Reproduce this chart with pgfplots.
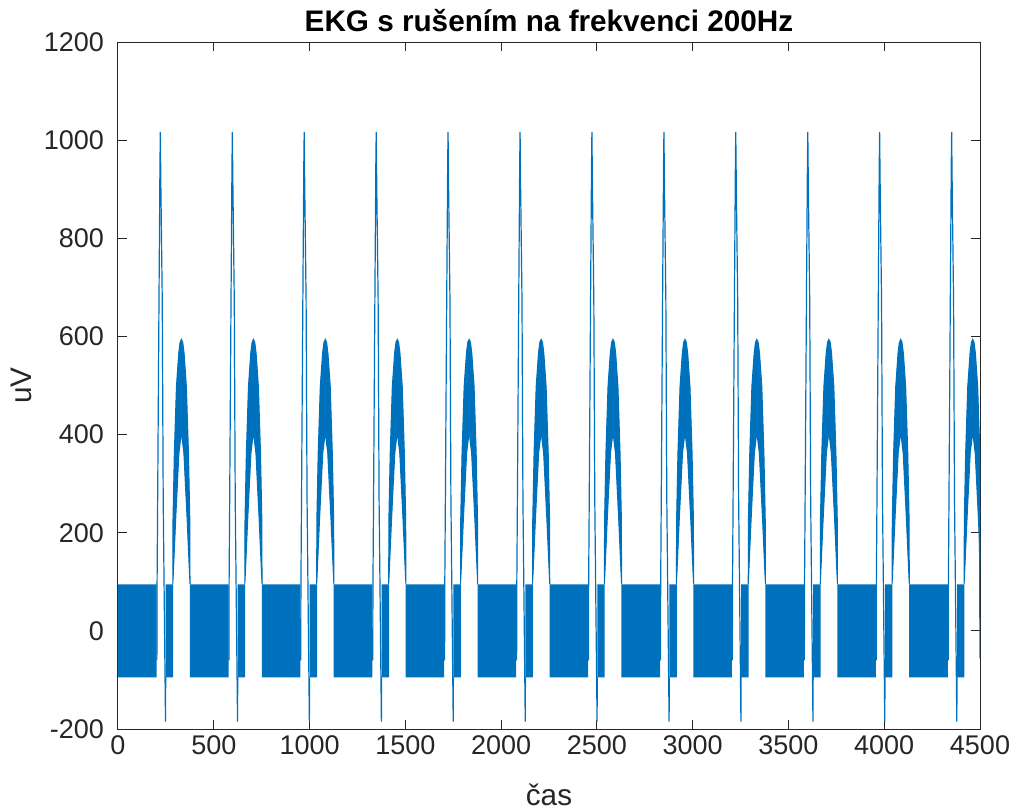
\documentclass[border=0pt]{standalone}
\usepackage{pgfplots}
\pgfplotsset{compat=1.18}
\usepackage{pgfplotstable}
\usepackage{fontspec}
\setmainfont{Liberation Sans}
\definecolor{mblue}{HTML}{0072BD}
\definecolor{axgray}{gray}{0.15}

% QRS complex, relative to the R peak
\pgfplotstableread{
t v
-17 -60
-16 95
-13 266
-6 674
-1 950
1 1017
4 900
11 674
16 266
28 -185
29 -95
}\qrs

% T wave with the 200 Hz interference: upper envelope, then lower envelope back
\pgfplotstableread{
t v
66 95
67 226
74 362
85 498
97 566
104 588
111 594
118 588
125 566
137 498
148 362
155 226
156 95
154 110
141 226
124 362
111 405
98 362
81 226
68 110
66 95
}\twave

% baseline stretches, where the interference fills -95 ... 95
\pgfplotstableread{
t v
0 -95
0 95
201 95
201 -95
201 nan
249 -95
249 95
288 95
288 -95
288 nan
375 -95
375 95
577 95
577 -95
577 nan
625 -95
625 95
664 95
664 -95
664 nan
751 -95
751 95
952 95
952 -95
952 nan
1000 -95
1000 95
1039 95
1039 -95
1039 nan
1126 -95
1126 95
1328 95
1328 -95
1328 nan
1376 -95
1376 95
1415 95
1415 -95
1415 nan
1502 -95
1502 95
1703 95
1703 -95
1703 nan
1751 -95
1751 95
1790 95
1790 -95
1790 nan
1877 -95
1877 95
2079 95
2079 -95
2079 nan
2127 -95
2127 95
2166 95
2166 -95
2166 nan
2253 -95
2253 95
2454 95
2454 -95
2454 nan
2502 -95
2502 95
2541 95
2541 -95
2541 nan
2628 -95
2628 95
2830 95
2830 -95
2830 nan
2878 -95
2878 95
2917 95
2917 -95
2917 nan
3004 -95
3004 95
3205 95
3205 -95
3205 nan
3253 -95
3253 95
3292 95
3292 -95
3292 nan
3379 -95
3379 95
3581 95
3581 -95
3581 nan
3629 -95
3629 95
3668 95
3668 -95
3668 nan
3755 -95
3755 95
3956 95
3956 -95
3956 nan
4004 -95
4004 95
4043 95
4043 -95
4043 nan
4130 -95
4130 95
4332 95
4332 -95
4332 nan
4380 -95
4380 95
4419 95
4419 -95
}\band

\begin{document}
\begin{tikzpicture}
\useasboundingbox (-59pt,-41pt) rectangle (448.5pt,364.5pt);
\begin{axis}[
  at={(0,0)}, anchor=south west,
  scale only axis, width=431pt, height=343.5pt,
  xmin=0, xmax=4500, ymin=-200, ymax=1200,
  xtick={0,500,...,4500}, ytick={-200,0,...,1200},
  scaled ticks=false,
  tick align=inside, tick pos=both,
  major tick length=4.5pt,
  axis line style={axgray, line width=0.5pt},
  tick style={axgray, line width=0.5pt},
  ticklabel style={font=\fontsize{13.5}{16}\selectfont, text=axgray},
  yticklabel style={xshift=-3.5pt},
  /pgf/number format/assume math mode=true,
  /pgf/number format/set thousands separator={},
  title={EKG s rušením na frekvenci 200Hz},
  every axis title shift=0pt,
  title style={at={(axis description cs:0.5,1.0146)}, anchor=base,
    font=\fontsize{14.85}{18}\selectfont\bfseries},
  xlabel={čas}, ylabel={uV},
  every axis x label/.style={at={(axis description cs:0.5,-0.112)}, anchor=base,
    font=\fontsize{14.85}{18}\selectfont, text=axgray},
  every axis y label/.style={at={(axis description cs:-0.0998,0.5)}, anchor=base, rotate=90,
    font=\fontsize{14.85}{18}\selectfont, text=axgray},
  unbounded coords=jump,
]
\addplot[fill=mblue, draw=none] table[x=t, y=v] {\band};
\pgfplotsinvokeforeach{220,596,971,1347,1722,2098,2473,2849,3224,3600,3975,4351}{
  \addplot[fill=mblue, draw=mblue, line width=0.5pt] table[x expr=\thisrow{t}+#1, y=v] {\twave};
  \addplot[draw=mblue, line width=0.6pt] table[x expr=\thisrow{t}+#1, y=v] {\qrs};
}
\addplot[draw=mblue, line width=0.6pt] coordinates {(4497,250) (4500,-56)};
\end{axis}
\end{tikzpicture}
\end{document}
